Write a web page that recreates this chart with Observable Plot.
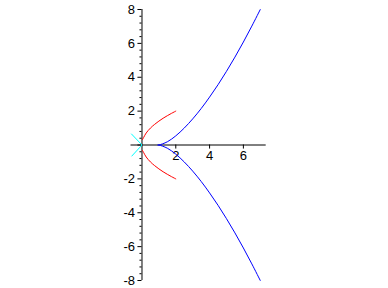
<!DOCTYPE html>
<html>
<head>
<meta charset="utf-8">
<script src="https://cdn.jsdelivr.net/npm/d3@7"></script>
<script src="https://cdn.jsdelivr.net/npm/@observablehq/plot@0.6"></script>
<style>
html, body { margin: 0; padding: 0; background: #fff; }
</style>
</head>
<body>
<div id="chart"></div>
<script>
// Blue curve (upper and lower branches)
const blueX = [0.95, 1, 1.5, 2, 2.5, 3, 3.5, 4, 4.5, 5, 5.5, 6, 6.5, 7];
const blueUpperY = [0, 0, 0.19, 0.54, 1.0, 1.54, 2.15, 2.83, 3.56, 4.35, 5.19, 6.08, 7.02, 8.0];
const blueLowerY = [0, 0, -0.19, -0.54, -1.0, -1.54, -2.15, -2.83, -3.56, -4.35, -5.19, -6.08, -7.02, -8.0];
// Red curve
const redX = [0.03, 0.1, 0.25, 0.5, 0.75, 1, 1.25, 1.5, 1.75, 2];
const redUpperY = [0.32, 0.45, 0.71, 1.0, 1.22, 1.41, 1.58, 1.73, 1.87, 2.0];
const redLowerY = [-0.32, -0.45, -0.71, -1.0, -1.22, -1.41, -1.58, -1.73, -1.87, -2.0];
// Cyan segments
const cyanX = [-0.62, 0, -0.6];
const cyanY = [0.65, 0, -0.65];
// Tick labels
const xTicks = [2, 4, 6];
const yTicks = [-8, -6, -4, -2, 2, 4, 6, 8];

const toPts = (xs, ys) => xs.map((x, i) => ({x, y: ys[i]}));
const yMinor = d3.range(-8, 8.001, 0.4).map(v => Math.round(v * 10) / 10).filter(v => Math.abs(v % 2) > 1e-6);

const font = "Liberation Sans, Arial, sans-serif";

const chart = Plot.plot({
  width: 388,
  height: 288,
  marginLeft: 130.5,
  marginRight: 122.3,
  marginTop: 9,
  marginBottom: 8,
  x: {domain: [-0.65, 7.35], axis: null},
  y: {domain: [-8, 8], axis: null},
  style: {fontFamily: font, background: "#fff"},
  marks: [
    // axes
    Plot.ruleX([0], {y1: -8, y2: 8, stroke: "#000", strokeWidth: 1}),
    Plot.ruleY([0], {x1: -0.65, x2: 7.35, stroke: "#000", strokeWidth: 1}),
    Plot.ruleY([...yTicks, 0], {y: d => d, x1: 0, x2: -0.24, stroke: "#000"}),
    Plot.ruleY(yMinor, {y: d => d, x1: 0, x2: -0.12, stroke: "#000"}),
    Plot.ruleX(xTicks, {x: d => d, y1: 0, y2: -0.24, stroke: "#000"}),
    Plot.text(yTicks, {x: 0, y: d => d, text: d => String(d), dx: -7, textAnchor: "end", fontSize: 13, fill: "#000"}),
    Plot.text(xTicks, {x: d => d, y: 0, text: d => String(d), dy: 11, textAnchor: "middle", fontSize: 13, fill: "#000"}),
    // curves
    Plot.line(toPts(blueX, blueUpperY), {x: "x", y: "y", stroke: "#0000ff", strokeWidth: 1, curve: "catmull-rom"}),
    Plot.line(toPts(blueX, blueLowerY), {x: "x", y: "y", stroke: "#0000ff", strokeWidth: 1, curve: "catmull-rom"}),
    Plot.line(toPts(redX, redUpperY), {x: "x", y: "y", stroke: "#ff0000", strokeWidth: 1, curve: "catmull-rom"}),
    Plot.line(toPts(redX, redLowerY), {x: "x", y: "y", stroke: "#ff0000", strokeWidth: 1, curve: "catmull-rom"}),
    Plot.line(toPts(cyanX, cyanY), {x: "x", y: "y", stroke: "#00ffff", strokeWidth: 1})
  ]
});
document.getElementById("chart").appendChild(chart);
</script>
</body>
</html>
